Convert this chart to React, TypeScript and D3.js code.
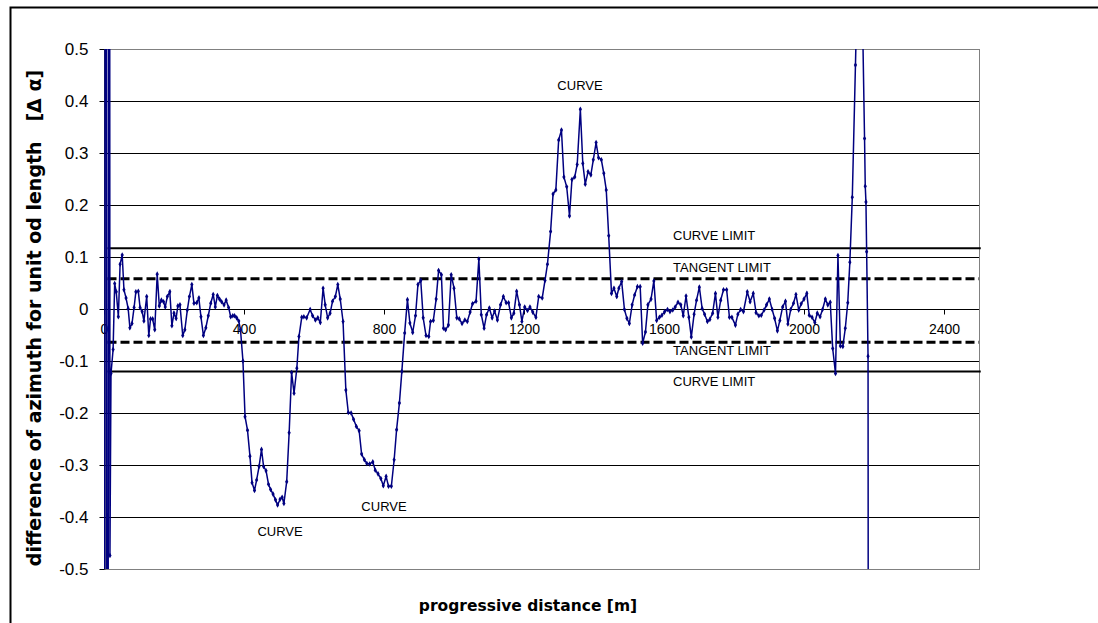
import React, { useEffect, useRef } from 'react';
import * as d3 from 'd3';

// progressive distance [m] and difference of azimuth per unit length
const distance = [
  0, 5, 10, 15, 17, 20, 26, 30.5, 35, 41, 46, 52, 57, 63, 69, 74, 80, 86, 91,
  98, 103, 109, 114, 122, 128, 133, 139, 145, 152, 158, 164, 170, 175, 181, 188, 194, 200, 206, 211,
  217, 225, 231, 238, 244, 251, 257, 265, 271, 277, 284, 291, 298, 305, 312, 318, 324, 330, 336, 343,
  349, 356, 362, 368, 373, 379, 385, 390, 397, 403, 410, 417, 423, 430, 436, 443, 450, 456, 463, 470,
  476, 483, 490, 496, 503, 509, 514, 522, 529, 536, 543, 551, 557, 565, 571, 579, 589, 596, 604, 611,
  618, 626, 632, 639, 646, 653, 661, 668, 675, 683, 691, 698, 706, 713, 721, 729, 736, 744, 751, 759,
  768, 775, 783, 791, 798, 806, 813, 821, 829, 836, 844, 851, 859, 867, 874, 882, 890, 897, 905, 912,
  920, 928, 933, 941, 949, 956, 964, 970, 976, 984, 992, 1000, 1008, 1015, 1023, 1031, 1038, 1046, 1053, 1063,
  1071, 1078, 1086, 1093, 1101, 1109, 1116, 1124, 1133, 1141, 1149, 1156, 1164, 1171, 1179, 1187, 1194, 1202, 1210, 1217,
  1225, 1234, 1242, 1252, 1260, 1267, 1276, 1283, 1291, 1299, 1307, 1314, 1322, 1330, 1337, 1345, 1352, 1361, 1368, 1375,
  1383, 1391, 1398, 1406, 1413, 1421, 1428, 1435, 1442, 1450, 1457, 1465, 1471, 1479, 1487, 1494, 1501, 1509, 1516, 1524,
  1532, 1539, 1547, 1554, 1563, 1571, 1579, 1587, 1594, 1602, 1610, 1617, 1625, 1632, 1640, 1648, 1655, 1663, 1671, 1678,
  1686, 1693, 1701, 1709, 1716, 1724, 1731, 1739, 1747, 1754, 1762, 1770, 1779, 1787, 1794, 1804, 1811, 1819, 1827, 1838,
  1846, 1855, 1863, 1871, 1878, 1886, 1893, 1901, 1909, 1916, 1924, 1931, 1939, 1947, 1954, 1962, 1970, 1977, 1985, 1992,
  2000, 2008, 2015, 2023, 2031, 2038, 2046, 2053, 2061, 2068, 2075, 2082, 2090, 2097, 2104, 2111, 2118, 2125, 2131, 2138,
  2147, 2160, 2173, 2175, 2177, 2179, 2183, 2186,
];

const deltaAlpha = [
  -3, 3, -3, 3, -0.474, -0.124, -0.078, 0.049, 0.033, -0.015, 0.086, 0.104, 0.037, 0.021, 0.001, -0.036, -0.028, 0.003, 0.033,
  0.034, 0.003, -0.005, -0.023, 0.024, -0.051, -0.019, -0.019, -0.04, 0.067, 0.006, 0.017, 0.014, 0.004, 0.024, 0.033, -0.032, -0.008, -0.018, 0.006,
  0.008, -0.051, -0.04, -0.002, 0.024, 0.047, 0.011, 0.012, 0.021, -0.015, -0.051, -0.036, -0.013, 0.011, 0.028, 0.004, 0.026, 0.019, 0.014, 0.008,
  0.017, 0.003, -0.015, -0.013, -0.013, -0.017, -0.023, -0.04, -0.1, -0.207, -0.233, -0.283, -0.334, -0.349, -0.329, -0.303, -0.27, -0.303, -0.311, -0.337,
  -0.347, -0.356, -0.367, -0.377, -0.366, -0.362, -0.374, -0.332, -0.238, -0.122, -0.162, -0.114, -0.053, -0.016, -0.015, -0.017, -0.001, -0.013, -0.021, -0.017,
  -0.026, 0.04, 0.008, -0.017, -0.008, 0.015, 0.024, 0.047, 0.019, -0.024, -0.156, -0.199, -0.2, -0.212, -0.226, -0.234, -0.279, -0.29, -0.297, -0.298,
  -0.294, -0.31, -0.317, -0.326, -0.34, -0.322, -0.341, -0.341, -0.29, -0.232, -0.181, -0.12, -0.046, 0.018, -0.027, -0.045, -0.013, 0.047, 0.055, -0.017,
  -0.051, -0.053, -0.024, -0.022, 0.019, 0.074, 0.066, -0.037, -0.04, -0.031, 0.066, 0.04, -0.017, -0.019, -0.028, -0.021, -0.024, -0.006, 0.01, 0.015,
  0.096, -0.011, -0.037, -0.011, 0.002, -0.017, -0.004, -0.021, 0.008, 0.024, 0.012, 0.012, -0.017, -0.008, 0.034, 0.008, -0.024, 0.004, -0.003, 0.004,
  -0.006, -0.016, 0.024, 0.021, 0.055, 0.086, 0.149, 0.221, 0.229, 0.325, 0.344, 0.254, 0.235, 0.179, 0.249, 0.254, 0.278, 0.384, 0.28, 0.24,
  0.264, 0.258, 0.287, 0.32, 0.291, 0.287, 0.261, 0.229, 0.141, 0.03, 0.04, 0.024, 0.04, 0.053, -0.001, -0.018, -0.028, 0.008, 0.027, 0.043,
  0.043, -0.066, -0.044, 0.008, 0.019, 0.054, -0.022, -0.016, -0.012, -0.005, -0.001, -0.005, -0.002, 0.004, 0.013, 0.008, -0.013, 0.025, -0.016, -0.054,
  -0.01, 0.017, 0.042, 0.001, -0.01, -0.024, -0.02, -0.008, 0.03, -0.016, 0.017, 0.037, 0.037, -0.016, -0.016, -0.031, -0.01, -0.001, -0.005, 0.033,
  0.014, 0.03, -0.007, -0.013, -0.012, -0.002, 0.008, 0.019, -0.001, -0.018, -0.042, -0.022, 0.004, 0.015, -0.029, -0.001, 0.011, 0.028, -0.002, 0.01,
  0.019, 0.03, -0.012, -0.016, -0.026, -0.008, -0.015, -0.001, 0.019, 0.008, 0.013, -0.076, -0.124, 0.103, -0.071, -0.072, -0.037, 0.012, 0.09, 0.215,
  0.469, 0.85, 0.328, 0.236, 0.206, 0.11, -0.091, -3,
];

const xTicks = [0, 400, 800, 1200, 1600, 2000, 2400];
const yTicks = [-0.5, -0.4, -0.3, -0.2, -0.1, 0, 0.1, 0.2, 0.3, 0.4, 0.5];
const curveLimits = [0.117, -0.12];
const tangentLimits = [0.058, -0.064];

// text notes placed in data units
const noteText = ['CURVE', 'CURVE', 'CURVE', 'CURVE LIMIT', 'TANGENT LIMIT', 'TANGENT LIMIT', 'CURVE LIMIT'];
const noteDistance = [1360, 503, 800, 1626, 1626, 1626, 1626];
const noteValue = [0.421, -0.437, -0.388, 0.133, 0.071, -0.0885, -0.148];

const App: React.FC = () => {
  const svgRef = useRef<SVGSVGElement>(null);

  useEffect(() => {
    if (!svgRef.current) return;
    const W = 1098;
    const H = 623;
    const margin = { top: 49, right: 119, bottom: 54, left: 104 };
    const font = 'Arial, "Liberation Sans", sans-serif';

    const svg = d3.select(svgRef.current);
    svg.selectAll('*').remove();

    const x = d3.scaleLinear().domain([0, 2500]).range([margin.left, W - margin.right]);
    const y = d3.scaleLinear().domain([-0.5, 0.5]).range([H - margin.bottom, margin.top]);
    const [x0, x1] = x.range();
    const [yb, yt] = y.range();

    // outer frame (runs off the picture)
    svg.append('rect')
      .attr('x', 10.5).attr('y', 7.5)
      .attr('width', 1200).attr('height', 800)
      .attr('fill', 'none').attr('stroke', '#000').attr('stroke-width', 2);

    // gridlines
    svg.append('g')
      .selectAll('line')
      .data(yTicks.filter((v) => Math.abs(v) < 0.5))
      .enter()
      .append('line')
      .attr('x1', x0).attr('x2', x1)
      .attr('y1', (v) => Math.round(y(v)) + 0.5)
      .attr('y2', (v) => Math.round(y(v)) + 0.5)
      .attr('stroke', '#000').attr('stroke-width', 1);

    svg.append('rect')
      .attr('x', x0 + 0.5).attr('y', yt + 0.5)
      .attr('width', x1 - x0).attr('height', yb - yt)
      .attr('fill', 'none').attr('stroke', '#808080');

    // axes
    const yAxis = svg.append('g')
      .attr('transform', `translate(${x0 + 0.5},0)`)
      .call(d3.axisLeft(y).tickValues(yTicks).tickSize(5).tickSizeOuter(0).tickPadding(11)
        .tickFormat((d) => (+d === 0 ? '0' : (+d).toFixed(1))));
    yAxis.select('.domain').attr('stroke', '#000');
    yAxis.selectAll('text').attr('font-size', 17).attr('font-family', font).attr('fill', '#000');

    const xAxis = svg.append('g')
      .attr('transform', `translate(0,${Math.round(y(0)) + 0.5})`)
      .call(d3.axisBottom(x).tickValues(xTicks).tickSize(5).tickSizeOuter(0).tickPadding(10)
        .tickFormat((d) => String(d)));
    xAxis.select('.domain').remove();
    xAxis.selectAll('text').attr('font-size', 14).attr('font-family', font).attr('fill', '#000');

    // limit lines
    svg.append('g')
      .selectAll('line')
      .data(curveLimits)
      .enter()
      .append('line')
      .attr('x1', x(10)).attr('x2', x(2505))
      .attr('y1', (v) => y(v)).attr('y2', (v) => y(v))
      .attr('stroke', '#000').attr('stroke-width', 2);

    svg.append('g')
      .selectAll('line')
      .data(tangentLimits)
      .enter()
      .append('line')
      .attr('x1', x(10)).attr('x2', x(2500))
      .attr('y1', (v) => y(v)).attr('y2', (v) => y(v))
      .attr('stroke', '#000').attr('stroke-width', 3).attr('stroke-dasharray', '9,4');

    // series
    svg.append('clipPath').attr('id', 'plot-clip')
      .append('rect').attr('x', x0).attr('y', yt).attr('width', x1 - x0).attr('height', yb - yt);

    const points = distance.map((d, i) => [d, deltaAlpha[i]] as [number, number]);
    const line = d3.line<[number, number]>().x((p) => x(p[0])).y((p) => y(p[1]));
    const series = svg.append('g').attr('clip-path', 'url(#plot-clip)');
    series.append('path')
      .datum(points)
      .attr('d', line)
      .attr('fill', 'none')
      .attr('stroke', '#000080')
      .attr('stroke-width', 1.5);
    series.selectAll('path.mk')
      .data(points)
      .enter()
      .append('path')
      .attr('class', 'mk')
      .attr('transform', (p) => `translate(${x(p[0])},${y(p[1])})`)
      .attr('d', d3.symbol(d3.symbolDiamond, 9)())
      .attr('fill', '#000080');

    // notes
    svg.append('g')
      .selectAll('text')
      .data(noteText)
      .enter()
      .append('text')
      .attr('x', (_, i) => x(noteDistance[i]))
      .attr('y', (_, i) => y(noteValue[i]))
      .attr('text-anchor', (_, i) => (i < 3 ? 'middle' : 'start'))
      .attr('font-size', 13)
      .attr('font-family', font)
      .text((t) => t);

    // axis titles
    svg.append('text')
      .attr('x', 528).attr('y', 611)
      .attr('text-anchor', 'middle')
      .attr('font-size', 15.5).attr('font-weight', 'bold')
      .attr('font-family', '"DejaVu Sans", sans-serif')
      .text('progressive distance [m]');

    svg.append('text')
      .attr('transform', 'translate(41,318) rotate(-90)')
      .attr('text-anchor', 'middle')
      .attr('font-size', 19).attr('font-weight', 'bold')
      .attr('font-family', '"DejaVu Sans", sans-serif')
      .style('white-space', 'pre')
      .text('difference of azimuth for unit od length   [Δ α]');
  }, []);

  return (
    <svg
      ref={svgRef}
      width={1098}
      height={623}
      style={{ position: 'absolute', left: 0, top: 0, background: '#fff' }}
    />
  );
};

export default App;
